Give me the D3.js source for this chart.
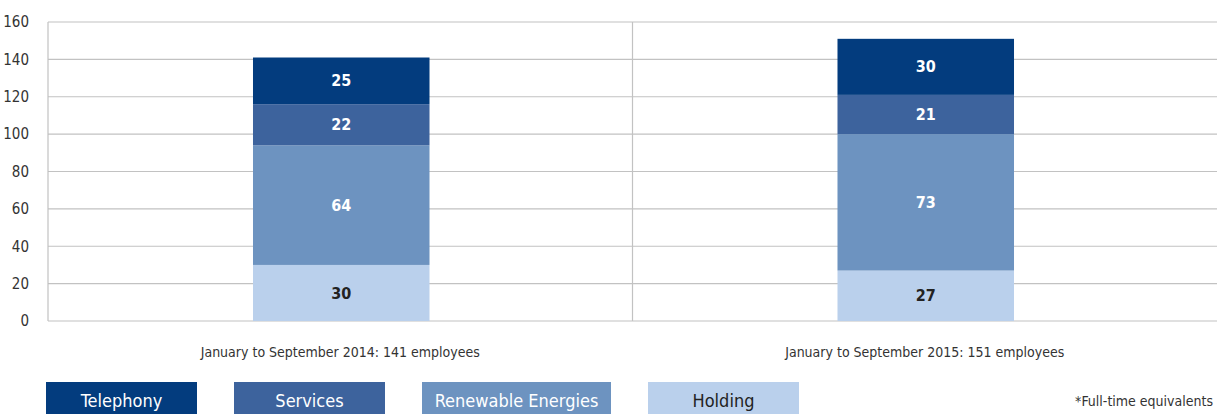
<!DOCTYPE html>
<html>
<head>
<meta charset="utf-8">
<script src="https://cdn.jsdelivr.net/npm/d3@7"></script>
<style>
  body { margin: 0; background: #fff; overflow: hidden; }
  svg text { font-family: "Liberation Sans Narrow", "DejaVu Sans Condensed", "Roboto", sans-serif; }
</style>
</head>
<body>
<script>
const periods = ["January to September 2014: 141 employees", "January to September 2015: 151 employees"];
const segments = ["Holding", "Renewable Energies", "Services", "Telephony"];
const holding = [30, 27];
const renewable = [64, 73];
const services = [22, 21];
const telephony = [25, 30];
const yTicks = [0, 20, 40, 60, 80, 100, 120, 140, 160];
const legendOrder = ["Telephony", "Services", "Renewable Energies", "Holding"];
const note = "*Full-time equivalents";

const width = 1217;
const height = 414;
const margin = { left: 48, top: 22, right: 0, bottom: 93 };

const colors = {
  "Telephony": "#033c7e",
  "Services": "#3d639d",
  "Renewable Energies": "#6d93c0",
  "Holding": "#bad0ec"
};
const labelColors = {
  "Telephony": "#fff",
  "Services": "#fff",
  "Renewable Energies": "#fff",
  "Holding": "#222"
};

const rows = periods.map((p, i) => ({
  period: p,
  "Holding": holding[i],
  "Renewable Energies": renewable[i],
  "Services": services[i],
  "Telephony": telephony[i]
}));

const svg = d3.select("body").append("svg")
  .attr("width", width)
  .attr("height", height)
  .style("display", "block");

const xScale = d3.scaleBand().domain(periods).range([margin.left, width - margin.right]).padding(0);
const yScale = d3.scaleLinear().domain([0, 160]).range([height - margin.bottom, margin.top]);
const barWidth = xScale.bandwidth() * 0.302;

// grid
svg.selectAll("line.grid").data(yTicks).enter().append("line")
  .attr("class", "grid")
  .attr("x1", margin.left).attr("x2", width - margin.right)
  .attr("y1", d => yScale(d)).attr("y2", d => yScale(d))
  .attr("stroke", "#c2c2c2").attr("stroke-width", 1.2);

// vertical lines: left axis and category separator
svg.selectAll("line.sep").data(periods).enter().append("line")
  .attr("class", "sep")
  .attr("x1", d => xScale(d)).attr("x2", d => xScale(d))
  .attr("y1", margin.top).attr("y2", height - margin.bottom)
  .attr("stroke", "#c2c2c2").attr("stroke-width", 1.2);

// y tick labels
svg.selectAll("text.tick").data(yTicks).enter().append("text")
  .attr("class", "tick")
  .attr("x", margin.left - 19)
  .attr("y", d => yScale(d))
  .attr("dy", "0.35em")
  .attr("text-anchor", "end")
  .attr("font-size", 15)
  .attr("fill", "#333")
  .text(d => d);

const stacked = d3.stack().keys(segments)(rows);
const cells = stacked.flatMap(layer => layer.map(v => ({ key: layer.key, v })));

svg.selectAll("rect.bar").data(cells).enter().append("rect")
  .attr("class", "bar")
  .attr("x", d => xScale(d.v.data.period) + xScale.bandwidth() / 2 - barWidth / 2 + 1)
  .attr("y", d => yScale(d.v[1]))
  .attr("width", barWidth)
  .attr("height", d => yScale(d.v[0]) - yScale(d.v[1]))
  .attr("fill", d => colors[d.key]);

svg.selectAll("text.val").data(cells).enter().append("text")
  .attr("class", "val")
  .attr("x", d => xScale(d.v.data.period) + xScale.bandwidth() / 2 + 1)
  .attr("y", d => (yScale(d.v[0]) + yScale(d.v[1])) / 2)
  .attr("dy", "0.35em")
  .attr("text-anchor", "middle")
  .attr("font-size", 16)
  .attr("font-weight", "bold")
  .attr("fill", d => labelColors[d.key])
  .text(d => d.v[1] - d.v[0]);

// category labels
svg.selectAll("text.cat").data(periods).enter().append("text")
  .attr("class", "cat")
  .attr("x", d => xScale(d) + xScale.bandwidth() / 2)
  .attr("y", yScale(0) + 31)
  .attr("dy", "0.35em")
  .attr("text-anchor", "middle")
  .attr("font-size", 14)
  .attr("fill", "#333")
  .text(d => d);

// legend
const legendX = [46, 234, 422, 648];
const legendW = [151, 151, 189, 151];
const legend = svg.selectAll("g.legend").data(legendOrder).enter().append("g")
  .attr("class", "legend")
  .attr("transform", (d, i) => `translate(${legendX[i]}, 382)`);

legend.append("rect")
  .attr("width", (d, i) => legendW[i])
  .attr("height", 32)
  .attr("fill", d => colors[d]);

legend.append("text")
  .attr("x", (d, i) => legendW[i] / 2)
  .attr("y", 19)
  .attr("dy", "0.35em")
  .attr("text-anchor", "middle")
  .attr("font-size", 18)
  .attr("fill", d => d === "Holding" ? "#222" : "#fff")
  .text(d => d);

svg.append("text")
  .attr("x", 1213)
  .attr("y", 401)
  .attr("dy", "0.35em")
  .attr("text-anchor", "end")
  .attr("font-size", 14)
  .attr("fill", "#333")
  .text(note);
</script>
</body>
</html>
